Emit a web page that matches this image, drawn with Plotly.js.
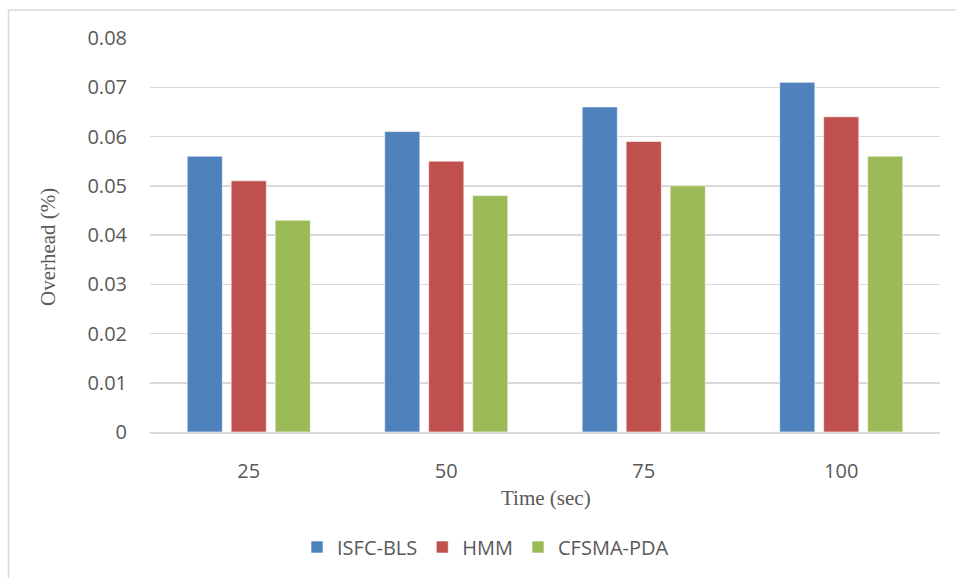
<!DOCTYPE html>
<html>
<head>
<meta charset="utf-8">
<script src="https://cdn.plot.ly/plotly-3.0.1.min.js"></script>
<style>html,body{margin:0;padding:0;background:#fff;}#chart{width:956px;height:578px;}</style>
</head>
<body>
<div id="chart"></div>
<script>
const categories = ["25", "50", "75", "100"];
const seriesNames = ["ISFC-BLS", "HMM", "CFSMA-PDA"];
const isfcBls = [0.056, 0.061, 0.066, 0.071];
const hmm = [0.051, 0.055, 0.059, 0.064];
const cfsmaPda = [0.043, 0.048, 0.050, 0.056];
const yTicks = [0, 0.01, 0.02, 0.03, 0.04, 0.05, 0.06, 0.07, 0.08];
const yTickText = ["0", "0.01", "0.02", "0.03", "0.04", "0.05", "0.06", "0.07", "0.08"];
const xTitle = "Time (sec)";
const yTitle = "Overhead (%)";
const colors = ["#4f81bd", "#c0504d", "#9bbb59"];

const values = [isfcBls, hmm, cfsmaPda];
const traces = values.map((v, i) => ({
  type: "bar",
  name: seriesNames[i],
  x: categories,
  y: v,
  marker: {color: colors[i], line: {color: "rgba(255,255,255,0.6)", width: 1}},
  hoverinfo: "none"
}));

const L = 150, W = 790, T = 38, H = 394;
const px = x => (x - L) / W;
const py = y => 1 - (y - T) / H;
const titleFont = {family: "Liberation Serif, Times New Roman, serif", size: 21, color: "#595959"};

const layout = {
  width: 956, height: 578,
  margin: {l: L, r: 956 - L - W, t: T, b: 578 - T - H},
  paper_bgcolor: "#ffffff",
  plot_bgcolor: "#ffffff",
  font: {family: "Open Sans, sans-serif", color: "#595959", size: 20},
  barmode: "group",
  bargap: 0.332,
  bargroupgap: 0.2,
  showlegend: true,
  legend: {
    orientation: "h",
    x: px(297), xanchor: "left",
    y: py(547), yanchor: "middle",
    font: {family: "Open Sans, sans-serif", size: 20, color: "#595959"},
    itemwidth: 30,
    traceorder: "normal"
  },
  xaxis: {
    type: "category",
    showgrid: false,
    showline: true,
    linecolor: "#d9d9d9",
    linewidth: 1.5,
    ticks: "",
    ticklabelstandoff: 20,
    tickfont: {family: "Open Sans, sans-serif", size: 20, color: "#595959"},
    fixedrange: true
  },
  yaxis: {
    range: [0, 0.08],
    tickvals: yTicks,
    ticktext: yTickText,
    showgrid: true,
    gridcolor: "#d9d9d9",
    gridwidth: 1.5,
    zeroline: false,
    showline: false,
    ticks: "",
    ticklabelstandoff: 22,
    tickfont: {family: "Open Sans, sans-serif", size: 20, color: "#595959"},
    fixedrange: true
  },
  annotations: [
    {text: xTitle, xref: "paper", yref: "paper", x: px(546), y: py(498), xanchor: "center", yanchor: "middle", showarrow: false, font: titleFont},
    {text: yTitle, xref: "paper", yref: "paper", x: px(48), y: py(247), xanchor: "center", yanchor: "middle", textangle: -90, showarrow: false, font: titleFont}
  ],
  shapes: [
    {type: "line", xref: "paper", yref: "paper", x0: px(8.5), x1: px(956), y0: py(10), y1: py(10), line: {color: "#d9d9d9", width: 1.5}},
    {type: "line", xref: "paper", yref: "paper", x0: px(8.5), x1: px(8.5), y0: py(10), y1: py(578), line: {color: "#d9d9d9", width: 1.5}}
  ]
};

Plotly.newPlot("chart", traces, layout, {displayModeBar: false, staticPlot: true});
</script>
</body>
</html>
